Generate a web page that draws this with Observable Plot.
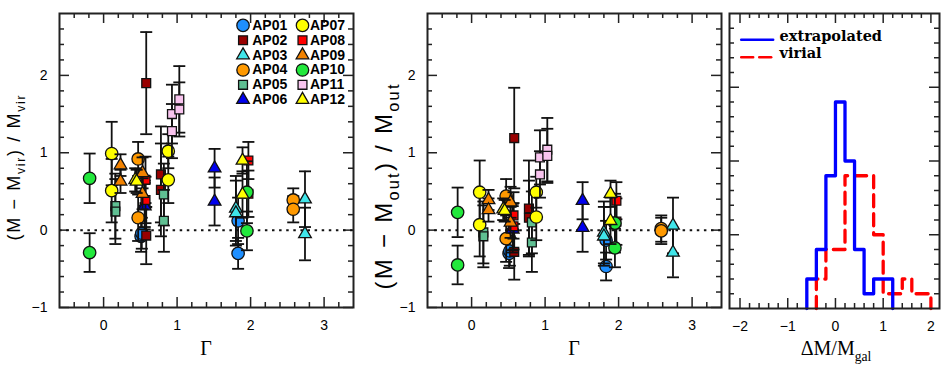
<!DOCTYPE html>
<html><head><meta charset="utf-8">
<script src="https://cdn.jsdelivr.net/npm/d3@7"></script>
<script src="https://cdn.jsdelivr.net/npm/@observablehq/plot@0.6"></script>
<style>
body{margin:0;background:#fff;}
#wrap{position:relative;width:949px;height:372px;overflow:hidden;background:#fff;}
.panel{position:absolute;top:0;}
</style></head><body><div id="wrap"></div>
<script>
// ---------- data ----------
const apNames  = ["AP01","AP02","AP03","AP04","AP05","AP06","AP07","AP08","AP09","AP10","AP11","AP12"];
const apShapes = ["circle","square","triangle","circle","square","triangle","circle","square","triangle","circle","square","triangle"];
const apColors = ["#1e8fff","#990000","#40e6ea","#ff9900","#5fbf92","#0000ee","#ffff00","#ff0000","#f28200","#22e83c","#f8c4ee","#ffff00"];

const pointAP = [0,0,0,0, 1,1,1,1, 2,2,2,2, 3,3,3,3, 4,4,4,4, 5,5,5,5, 6,6,6,6, 7,7,7,7, 8,8,8,8, 9,9,9,9, 10,10,10,10, 11,11,11,11];
const gamma   = [0.51,0.52,1.83,1.83, 0.58,0.58,0.78,0.78, 1.80,1.80,2.74,2.74, 0.47,0.47,2.58,2.58, 0.16,0.16,0.82,0.82, 0.56,0.56,1.51,1.51, 0.11,0.11,0.88,0.88, 0.57,0.57,1.97,1.97, 0.23,0.23,0.53,0.53, -0.19,-0.19,1.95,1.95, 0.93,0.93,1.03,1.03, 0.43,0.45,1.89,1.89];
const vir     = [-0.08,-0.04,0.12,-0.30, 1.90,-0.07,0.72,0.52, 0.28,0.22,0.40,-0.05, 0.92,0.16,0.39,0.27, 0.31,0.24,0.46,0.12, 0.34,0.31,0.80,0.37, 0.99,0.51,1.02,0.65, 0.65,0.39,0.90,0.47, 0.84,0.63,0.74,0.47, 0.67,-0.29,0.49,-0.01, 1.50,1.28,1.69,1.56, 0.65,0.63,0.90,0.46];
const virErr  = [0.20,0.20,0.30,0.20, 0.66,0.37,0.62,0.60, 0.42,0.42,0.36,0.34, 0.22,0.30,0.15,0.17, 0.42,0.42,0.40,0.40, 0.30,0.30,0.25,0.31, 0.41,0.41,0.22,0.30, 0.30,0.30,0.24,0.30, 0.14,0.15,0.20,0.20, 0.32,0.25,0.40,0.25, 0.38,0.35,0.43,0.35, 0.15,0.15,0.17,0.30];
const outv    = [-0.30,-0.27,-0.13,-0.47, 1.19,-0.28,0.28,0.16, -0.03,-0.08,0.06,-0.29, 0.44,-0.11,0.02,-0.01, -0.03,-0.08,0.10,-0.16, 0.04,0.01,0.38,0.03, 0.49,0.07,0.49,0.17, 0.19,0.05,0.38,0.11, 0.39,0.26,0.36,0.10, 0.23,-0.45,0.09,-0.23, 0.94,0.72,1.04,0.96, 0.27,0.25,0.47,0.12];
const outErr  = [0.19,0.19,0.25,0.18, 0.65,0.36,0.62,0.48, 0.40,0.38,0.36,0.32, 0.22,0.30,0.17,0.17, 0.40,0.40,0.40,0.38, 0.30,0.30,0.24,0.31, 0.41,0.41,0.20,0.30, 0.30,0.30,0.24,0.30, 0.13,0.15,0.20,0.20, 0.32,0.25,0.38,0.25, 0.35,0.30,0.41,0.35, 0.14,0.14,0.17,0.30];

// histograms (bin width 0.2)
const binWidth = 0.2;
const extrapStart = -0.6;
const extrapCounts = [2,4,9,14,10,4,1,2,2];
const virialStart = -0.4;
const virialCounts = [2,4,4,9,9,9,5,1,1,2,1,1];
const histLabels = ["extrapolated","virial"];

const scatterXTicks = [0,1,2,3];
const scatterYTicks = [-1,0,1,2];
const histXTicks = [-2,-1,0,1,2];

// ---------- helpers ----------
const fmt = d => d < 0 ? "\u2212" + Math.abs(d) : String(d);
const rnd = v => Math.round(v*10)/10;
function minors(lo, hi, step, majors){
  const out=[]; for(let v=lo; v<=hi+1e-9; v+=step){ const r=rnd(v); if(!majors.includes(r)) out.push(r);} return out;
}
const capSym = {draw(ctx, size){ const w=Math.sqrt(size/Math.PI); ctx.moveTo(-w,0); ctx.lineTo(w,0);} };
const symR = {circle:6.2, square:5.0, triangle:4.7};
const INK = "#111";

function frameTicks(xMaj, xMin, yMaj, yMin, FW, FH){
  const o = {stroke:"#222", strokeWidth:1.5};
  return [
    Plot.tickX(xMaj, {x:d=>d, insetTop:FH-10, ...o}),
    Plot.tickX(xMaj, {x:d=>d, insetBottom:FH-10, ...o}),
    Plot.tickX(xMin, {x:d=>d, insetTop:FH-5, ...o}),
    Plot.tickX(xMin, {x:d=>d, insetBottom:FH-5, ...o}),
    Plot.tickY(yMaj, {y:d=>d, insetRight:FW-10, ...o}),
    Plot.tickY(yMaj, {y:d=>d, insetLeft:FW-10, ...o}),
    Plot.tickY(yMin, {y:d=>d, insetRight:FW-5, ...o}),
    Plot.tickY(yMin, {y:d=>d, insetLeft:FW-5, ...o})
  ];
}

function addLabel(svg, o){
  const t = d3.select(svg).append("text")
    .attr("transform", `translate(${o.x},${o.y})` + (o.rot ? ` rotate(${o.rot})` : ""))
    .attr("text-anchor","middle").attr("font-family", o.family).attr("font-size", o.size)
    .attr("font-weight", o.weight || "normal").attr("fill","black").style("white-space","pre");
  if (o.len) t.attr("textLength", o.len).attr("lengthAdjust","spacing");
  let shifted=false;
  o.parts.forEach(p=>{
    const s = t.append("tspan").text(p.t);
    if (p.sub){ s.attr("font-size", o.size*0.68).attr("dy", o.size*0.3); shifted=true; }
    else if (shifted){ s.attr("dy", -o.size*0.3); shifted=false; }
  });
}

function place(svg, left){
  const d = document.createElement("div"); d.className="panel"; d.style.left=left+"px";
  d.appendChild(svg); document.getElementById("wrap").appendChild(d);
}

// ---------- scatter panels ----------
function scatterPanel(vals, errs, cfg){
  const H=372, mt=13, mb=65;
  const FW = cfg.width - cfg.ml - cfg.mr, FH = H - mt - mb;
  const marks = [
    ...frameTicks(scatterXTicks, minors(-0.4,3.2,0.2,scatterXTicks), scatterYTicks, minors(-0.8,2.6,0.2,scatterYTicks), FW, FH),
    Plot.ruleY([0], {stroke:INK, strokeWidth:2, strokeDasharray:"2.5,4.6"})
  ];
  apNames.forEach((name,k)=>{
    const pts = gamma.map((g,i)=>({g, v:vals[i], lo:vals[i]-errs[i], hi:vals[i]+errs[i], k:pointAP[i]})).filter(d=>d.k===k);
    marks.push(Plot.ruleX(pts, {x:"g", y1:"lo", y2:"hi", stroke:INK, strokeWidth:1.8}));
    marks.push(Plot.dot(pts, {x:"g", y:"lo", symbol:capSym, r:6, fill:"none", stroke:INK, strokeWidth:1.8}));
    marks.push(Plot.dot(pts, {x:"g", y:"hi", symbol:capSym, r:6, fill:"none", stroke:INK, strokeWidth:1.8}));
    marks.push(Plot.dot(pts, {x:"g", y:"v", symbol:apShapes[k], r:symR[apShapes[k]], fill:apColors[k], stroke:INK, strokeWidth:1.3}));
  });
  if (cfg.legend){
    const leg = apNames.map((n,i)=>({n, k:i, lx: i<6 ? 1.897 : 2.706, tx: i<6 ? 2.022 : 2.808, y: 2.646 - (i%6)*0.192}));
    apNames.forEach((n,k)=>{
      marks.push(Plot.dot(leg.filter(d=>d.k===k), {x:"lx", y:"y", symbol:apShapes[k], r:symR[apShapes[k]], fill:apColors[k], stroke:INK, strokeWidth:1.3}));
    });
    marks.push(Plot.text(leg, {x:"tx", y:"y", text:"n", textAnchor:"start", fontWeight:"bold", fontSize:14, fill:"black"}));
  }
  marks.push(Plot.frame({stroke:"#222", strokeWidth:2}));
  const svg = Plot.plot({
    width:cfg.width, height:H, marginTop:mt, marginBottom:mb, marginLeft:cfg.ml, marginRight:cfg.mr,
    style:{fontFamily:"'Liberation Sans', Arial, sans-serif", fontSize:"14px", color:"black", background:"white", overflow:"visible"},
    x:{domain:[-0.6,3.4], ticks:scatterXTicks, tickSize:0, tickPadding:13, tickFormat:fmt, label:null},
    y:{domain:[-1,2.8], ticks:scatterYTicks, tickSize:0, tickPadding:12, tickFormat:fmt, label:null},
    marks
  });
  addLabel(svg, {x:cfg.ml+FW/2, y:355, size:20, family:"'Liberation Serif', serif", parts:[{t:"\u0393"}]});
  addLabel(svg, {x:cfg.yl.x, y:cfg.yl.y, rot:-90, size:cfg.yl.size, len:cfg.yl.len, family:"'Liberation Sans', Arial, sans-serif", parts:cfg.yl.parts});
  return svg;
}

const svg1 = scatterPanel(vir, virErr, {width:360, ml:59, mr:7, legend:true,
  yl:{x:20, y:168, size:18, len:145, parts:[{t:"(M \u2212 M"},{t:"vir",sub:1},{t:") / M"},{t:"vir",sub:1}]}});
place(svg1, 0);

const svg2 = scatterPanel(outv, outErr, {width:365, ml:67, mr:4, legend:false,
  yl:{x:32, y:187, size:24, len:205, parts:[{t:"(M \u2212 M"},{t:"out",sub:1},{t:") / M"},{t:"out",sub:1}]}});
place(svg2, 360);

// ---------- histogram panel ----------
function steps(start, counts){
  const pts=[{x:start,y:0}];
  counts.forEach((c,i)=>pts.push({x:rnd(start+i*binWidth)+0, y:c}));
  pts.push({x:start+counts.length*binWidth, y:0});
  return pts;
}
(function(){
  const W=224, H=372, mt=13, mb=64, ml=4, mr=10;
  const FW=W-ml-mr, FH=H-mt-mb;
  const legendLines = [
    {s:histLabels[0], x:-1.975, y:18.22}, {s:histLabels[0], x:-1.305, y:18.22},
    {s:histLabels[1], x:-1.975, y:17.04}, {s:histLabels[1], x:-1.305, y:17.04}
  ];
  const legendText = [{s:histLabels[0], x:-1.17, y:18.45},{s:histLabels[1], x:-1.17, y:17.33}];
  const marks = [
    ...frameTicks(histXTicks, minors(-1.8,1.8,0.2,histXTicks), [5,10,15], minors(1,19,1,[5,10,15]), FW, FH),
    Plot.line(steps(virialStart, virialCounts), {x:"x", y:"y", curve:"step-after", stroke:"#ff0000", strokeWidth:3.3, strokeDasharray:"12,7"}),
    Plot.line(steps(extrapStart, extrapCounts), {x:"x", y:"y", curve:"step-after", stroke:"#0000ff", strokeWidth:3.3}),
    Plot.line(legendLines.filter(d=>d.s===histLabels[0]), {x:"x", y:"y", stroke:"#0000ff", strokeWidth:2.5}),
    Plot.line(legendLines.filter(d=>d.s===histLabels[1]), {x:"x", y:"y", stroke:"#ff0000", strokeWidth:2.5, strokeDasharray:"12,6"}),
    Plot.text(legendText, {x:"x", y:"y", text:"s", textAnchor:"start", fontFamily:"'DejaVu Serif', serif", fontWeight:"bold", fontSize:14.5, fill:"black"}),
    Plot.frame({stroke:"#222", strokeWidth:2})
  ];
  const svg = Plot.plot({
    width:W, height:H, marginTop:mt, marginBottom:mb, marginLeft:ml, marginRight:mr,
    style:{fontFamily:"'Liberation Sans', Arial, sans-serif", fontSize:"14px", color:"black", background:"white", overflow:"visible"},
    x:{domain:[-2.22,2.18], ticks:histXTicks, tickSize:0, tickPadding:13, tickFormat:fmt, label:null},
    y:{domain:[0,20], axis:null},
    marks
  });
  addLabel(svg, {x:ml+FW/2+2, y:355, size:20, family:"'Liberation Serif', serif", parts:[{t:"\u0394M/M"},{t:"gal",sub:1}]});
  place(svg, 725);
})();
</script></body></html>
